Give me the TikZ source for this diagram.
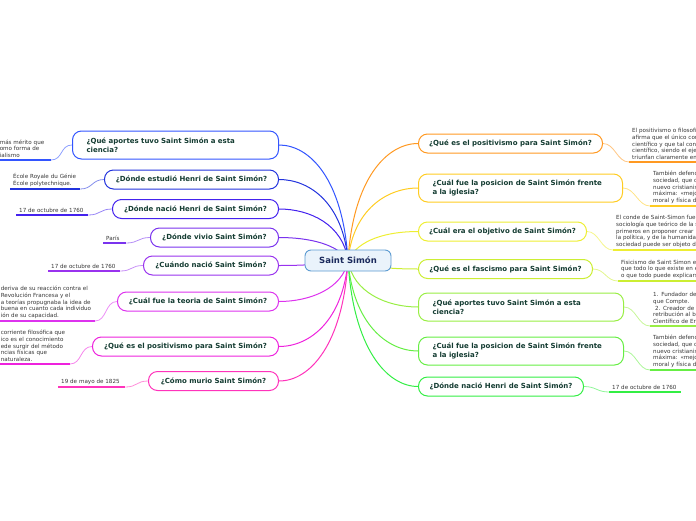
\documentclass[tikz,border=0pt]{standalone}
\usepackage{fontspec}
\setmainfont{DejaVu Sans}
\usetikzlibrary{positioning,backgrounds,calc}

\definecolor{rootLine}{HTML}{5C9BD1}
\definecolor{rootFill}{HTML}{EAF3FB}
\definecolor{rootText}{HTML}{1B2A5C}
\definecolor{headText}{HTML}{143C32}
\definecolor{leafText}{HTML}{363636}
\definecolor{cLa}{HTML}{3355FF}
\definecolor{cLb}{HTML}{2233DD}
\definecolor{cLc}{HTML}{4422EE}
\definecolor{cLd}{HTML}{7A33EE}
\definecolor{cLe}{HTML}{9933EE}
\definecolor{cLf}{HTML}{DD33EE}
\definecolor{cLg}{HTML}{EE22DD}
\definecolor{cLh}{HTML}{FF33BB}
\definecolor{cRa}{HTML}{FF9922}
\definecolor{cRb}{HTML}{FFCC22}
\definecolor{cRc}{HTML}{EEEE33}
\definecolor{cRd}{HTML}{CCEE33}
\definecolor{cRe}{HTML}{99EE44}
\definecolor{cRf}{HTML}{66EE44}
\definecolor{cRg}{HTML}{33EE44}

\begin{document}
\begin{tikzpicture}[
  x=1pt, y=-1pt,
  font=\fontsize{7}{9}\selectfont\bfseries,
  rootBox/.style={draw=rootLine, fill=rootFill, rounded corners=6pt, line width=0.9pt,
               minimum width=86pt, minimum height=21pt, text=rootText,
               font=\fontsize{8.5}{10}\selectfont\bfseries},
  topic/.style={draw=#1, fill=white, rounded corners=9pt, line width=1pt,
               minimum height=19pt, inner xsep=8pt, text=headText},
  topicTwo/.style={topic=#1, align=left, inner xsep=14pt, minimum height=28pt},
  leaf/.style={font=\fontsize{5.6}{6.8}\selectfont, text=leafText, align=left,
               inner xsep=3pt, inner ysep=2pt},
  br/.style={draw=#1, line width=1pt},
  tw/.style={draw=#1!55, line width=0.8pt},
  ul/.style={draw=#1, line width=2.2pt},
]
\clip (0,0) rectangle (696,520);

\node[rootBox] (root) at (348,260.5) {Saint Simón};

% left side
\node[topicTwo=cLa, text width=178pt, anchor=east] (La) at (279,145) {¿Qué aportes tuvo Saint Simón a esta\\ciencia?};
\node[topic=cLb, minimum width=174pt, anchor=east] (Lb) at (279,179.5) {¿Dónde estudió Henri de Saint Simón?};
\node[topic=cLc, minimum width=166pt, anchor=east] (Lc) at (279,209) {¿Dónde nació Henri de Saint Simón?};
\node[topic=cLd, minimum width=128pt, anchor=east] (Ld) at (279,237.5) {¿Dónde vivio Saint Simón?};
\node[topic=cLe, minimum width=135pt, anchor=east] (Le) at (279,265.5) {¿Cuándo nació Saint Simón?};
\node[topic=cLf, minimum width=161pt, anchor=east] (Lf) at (279,301.5) {¿Cuál fue la teoria de Saint Simón?};
\node[topic=cLg, minimum width=186pt, anchor=east] (Lg) at (279,346.5) {¿Qué es el positivismo para Saint Simón?};
\node[topic=cLh, minimum width=130pt, anchor=east] (Lh) at (279,381) {¿Cómo murio Saint Simón?};

\node[leaf, text width=48pt, anchor=south east] (la) at (51,160) {más mérito que\\omo forma de\\ialismo};
\node[leaf, text width=64pt, anchor=south west] (lb) at (10,189) {École Royale du Génie\\École polytechnique.};
\node[leaf, text width=66pt, anchor=south west] (lc) at (16,215) {17 de octubre de 1760};
\node[leaf, text width=17pt, anchor=south west] (ld) at (103,243) {París};
\node[leaf, text width=66pt, anchor=south west] (le) at (48,271) {17 de octubre de 1760};
\node[leaf, text width=91pt, anchor=south east] (lf) at (95,321) {deriva de su reacción contra el\\Revolución Francesa y el\\a teorías propugnaba la idea de\\buena en cuanto cada individuo\\ión de su capacidad.};
\node[leaf, text width=66pt, anchor=south east] (lg) at (70,364) {corriente filosófica que\\ico es el conocimiento\\ede surgir del método\\ncias físicas que\\naturaleza.};
\node[leaf, text width=61pt, anchor=south west] (lh) at (58,387) {19 de mayo de 1825};

% right side
\node[topic=cRa, minimum width=184pt, anchor=west] (Ra) at (418,143.5) {¿Qué es el positivismo para Saint Simón?};
\node[topicTwo=cRb, text width=176pt, anchor=west] (Rb) at (418,188) {¿Cuál fue la posicion de Saint Simón frente\\a la iglesia?};
\node[topic=cRc, minimum width=168pt, anchor=west] (Rc) at (418,231.5) {¿Cuál era el objetivo de Saint Simón?};
\node[topic=cRd, minimum width=174pt, anchor=west] (Rd) at (418,269) {¿Qué es el fascismo para Saint Simón?};
\node[topicTwo=cRe, text width=177pt, anchor=west] (Re) at (418,307) {¿Qué aportes tuvo Saint Simón a esta\\ciencia?};
\node[topicTwo=cRf, text width=177pt, anchor=west] (Rf) at (418,351) {¿Cuál fue la posicion de Saint Simón frente\\a la iglesia?};
\node[topic=cRg, minimum width=165pt, anchor=west] (Rg) at (418,386.5) {¿Dónde nació Henri de Saint Simón?};

\node[leaf, text width=90pt, anchor=south west] (ra) at (629,162) {El positivismo o filosofí\\afirma que el único con\\científico y que tal cono\\científico, siendo el ejem\\triunfan claramente en};
\node[leaf, text width=90pt, anchor=south west] (rb) at (650,206) {También defend\\sociedad, que d\\nuevo cristianis\\máxima: «mejo\\moral y física d};
\node[leaf, text width=100pt, anchor=south west] (rc) at (613,250) {El conde de Saint-Simon fue\\sociología que teórico de la s\\primeros en proponer crear\\la política, y de la humanida\\sociedad puede ser objeto d};
\node[leaf, text width=100pt, anchor=south west] (rd) at (618,281) {Fisicismo de Saint Simon e\\que todo lo que existe en e\\o que todo puede explicars};
\node[leaf, text width=90pt, anchor=south west] (re) at (650,326) {1. Fundador de\\que Compte.\\\ 2. Creador de\\retribución al b\\Científico de Er};
\node[leaf, text width=90pt, anchor=south west] (rf) at (650,370) {También defend\\sociedad, que d\\nuevo cristianis\\máxima: «mejo\\moral y física d};
\node[leaf, text width=66pt, anchor=south west] (rg) at (609,392) {17 de octubre de 1760};

\begin{scope}[on background layer]
% branches from the centre
\draw[br=cLa] (root.center) .. controls +(-5,-81) and +(31,0) .. (La.east);
\draw[br=cLb] (root.center) .. controls +(-5,-57) and +(31,0) .. (Lb.east);
\draw[br=cLc] (root.center) .. controls +(-5,-36) and +(31,0) .. (Lc.east);
\draw[br=cLd] (root.center) .. controls +(-10,-16) and +(31,0) .. (Ld.east);
\draw[br=cLe] (root.center) .. controls +(-20,3) and +(31,0) .. (Le.east);
\draw[br=cLf] (root.center) .. controls +(-5,28) and +(31,0) .. (Lf.east);
\draw[br=cLg] (root.center) .. controls +(-5,60) and +(31,0) .. (Lg.east);
\draw[br=cLh] (root.center) .. controls +(-5,84) and +(31,0) .. (Lh.east);
\draw[br=cRa] (root.center) .. controls +(5,-82) and +(-31,0) .. (Ra.west);
\draw[br=cRb] (root.center) .. controls +(5,-51) and +(-31,0) .. (Rb.west);
\draw[br=cRc] (root.center) .. controls +(10,-21) and +(-31,0) .. (Rc.west);
\draw[br=cRd] (root.center) .. controls +(20,6) and +(-31,0) .. (Rd.west);
\draw[br=cRe] (root.center) .. controls +(5,32) and +(-31,0) .. (Re.west);
\draw[br=cRf] (root.center) .. controls +(5,63) and +(-31,0) .. (Rf.west);
\draw[br=cRg] (root.center) .. controls +(5,88) and +(-31,0) .. (Rg.west);

% leaves
\draw[tw=cLa] (La.west) .. controls +(-12,0) and +(12,0) .. (la.south east);
\draw[tw=cLb] (Lb.west) .. controls +(-12,0) and +(12,0) .. (lb.south east);
\draw[tw=cLc] (Lc.west) .. controls +(-12,0) and +(12,0) .. (lc.south east);
\draw[tw=cLd] (Ld.west) .. controls +(-12,0) and +(12,0) .. (ld.south east);
\draw[tw=cLe] (Le.west) .. controls +(-12,0) and +(12,0) .. (le.south east);
\draw[tw=cLf] (Lf.west) .. controls +(-12,0) and +(12,0) .. (lf.south east);
\draw[tw=cLg] (Lg.west) .. controls +(-12,0) and +(12,0) .. (lg.south east);
\draw[tw=cLh] (Lh.west) .. controls +(-12,0) and +(12,0) .. (lh.south east);
\draw[tw=cRa] (Ra.east) .. controls +(12,0) and +(-12,0) .. (ra.south west);
\draw[tw=cRb] (Rb.east) .. controls +(12,0) and +(-12,0) .. (rb.south west);
\draw[tw=cRc] (Rc.east) .. controls +(12,0) and +(-12,0) .. (rc.south west);
\draw[tw=cRd] (Rd.east) .. controls +(12,0) and +(-12,0) .. (rd.south west);
\draw[tw=cRe] (Re.east) .. controls +(12,0) and +(-12,0) .. (re.south west);
\draw[tw=cRf] (Rf.east) .. controls +(12,0) and +(-12,0) .. (rf.south west);
\draw[tw=cRg] (Rg.east) .. controls +(12,0) and +(-12,0) .. (rg.south west);

\draw[ul=cLa] (la.south east) -- (la.south west);
\draw[ul=cLb] (lb.south east) -- (lb.south west);
\draw[ul=cLc] (lc.south east) -- (lc.south west);
\draw[ul=cLd] (ld.south east) -- (ld.south west);
\draw[ul=cLe] (le.south east) -- (le.south west);
\draw[ul=cLf] (lf.south east) -- (lf.south west);
\draw[ul=cLg] (lg.south east) -- (lg.south west);
\draw[ul=cLh] (lh.south east) -- (lh.south west);
\draw[ul=cRa] (ra.south west) -- (ra.south east);
\draw[ul=cRb] (rb.south west) -- (rb.south east);
\draw[ul=cRc] (rc.south west) -- (rc.south east);
\draw[ul=cRd] (rd.south west) -- (rd.south east);
\draw[ul=cRe] (re.south west) -- (re.south east);
\draw[ul=cRf] (rf.south west) -- (rf.south east);
\draw[ul=cRg] (rg.south west) -- (rg.south east);
\end{scope}
\end{tikzpicture}
\end{document}
